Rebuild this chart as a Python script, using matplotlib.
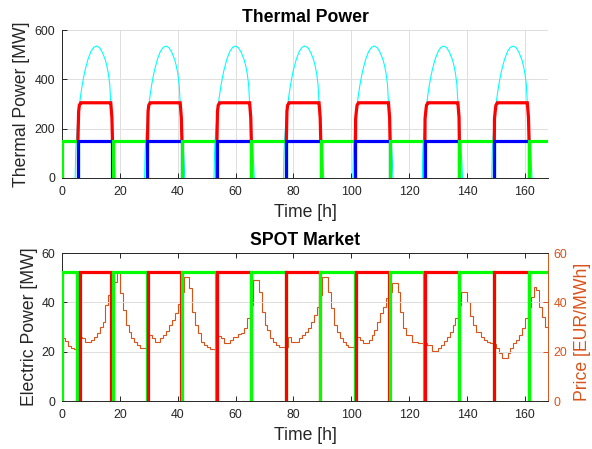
import numpy as np
import matplotlib
matplotlib.use("Agg")
import matplotlib.pyplot as plt

# ---------------------------------------------------------------- data
T_END = 168

# daily heat demand profile: hour of day -> MW
heat_hour = [4.55, 4.75, 5.0, 5.25, 5.5, 5.75, 6.0, 6.5, 7.0, 7.5, 8.0, 9.0,
             10.0, 11.0, 12.0, 13.0, 14.0, 15.0, 15.5, 16.0, 16.5, 16.85,
             17.25, 17.5, 17.75, 18.0, 18.2, 18.45]
heat_mw = [0, 110, 165, 205, 240, 270, 295, 340, 378, 410, 438, 482,
           513, 530, 535, 528, 508, 478, 455, 425, 380, 305,
           245, 205, 160, 110, 65, 0]
n_days = 7

# day unit (thermal) switching times [h]
day_on = [5.5, 29.55, 53.55, 77.55, 101.45, 125.45, 149.45]
day_off = [17.45, 41.45, 65.45, 89.45, 113.4, 137.35, 161.45]
# night unit (thermal) switching times [h]
night_off = [5.36, 29.3, 53.3, 77.3, 101.2, 125.2, 149.2]
night_on = [17.55, 41.5, 65.5, 89.5, 113.45, 137.4, 161.5]

unit_mw = 150        # thermal output of the base units
boiler_cap_mw = 305  # cap of the day unit total output

# electric output switching times [h]
el_day_on = [6.2, 29.65, 53.6, 77.55, 101.55, 125.5, 149.5]
el_day_off = [16.9, 41.3, 65.3, 89.2, 113.2, 137.2, 161.3]
el_night_off = [5.35, 29.4, 53.4, 77.3, 101.3, 125.3, 149.3]
el_night_on = [17.5, 41.45, 65.45, 89.35, 113.35, 137.35, 161.45]
el_mw = 52.5

# hourly SPOT price [EUR/MWh]
price = [
    # day 1
    25.6, 24.4, 22.4, 21.5, 21.0, 21.4, 25.8, 25.4, 23.8, 24.0, 24.8, 25.8,
    27.5, 29.8, 32.2, 38.9, 43.0, 47.5, 48.4, 52.4, 43.7, 36.9, 30.8, 28.1,
    # day 2
    25.4, 24.0, 22.7, 21.6, 21.6, 22.0, 26.8, 25.4, 24.0, 24.0, 25.4, 26.8,
    28.4, 30.8, 32.8, 35.5, 39.2, 44.3, 50.4, 50.4, 45.7, 36.2, 30.8, 27.4,
    # day 3
    24.0, 22.8, 21.8, 21.0, 21.0, 21.2, 26.3, 25.4, 23.7, 23.7, 24.7, 25.8,
    25.8, 27.0, 27.7, 29.7, 33.5, 38.9, 49.0, 49.0, 44.3, 36.2, 30.8, 28.8,
    # day 4
    25.4, 24.0, 22.7, 21.8, 21.8, 22.0, 26.1, 24.0, 24.0, 24.0, 25.4, 26.8,
    28.0, 29.5, 32.2, 35.0, 38.2, 43.0, 50.4, 50.4, 44.3, 37.6, 30.8, 28.1,
    # day 5
    25.4, 24.0, 22.7, 21.8, 21.8, 22.5, 26.1, 24.7, 23.4, 23.4, 24.7, 26.8,
    28.8, 32.2, 35.5, 38.0, 41.6, 44.0, 47.7, 47.7, 44.3, 36.2, 29.5, 26.8,
    # day 6
    26.8, 24.0, 24.0, 23.4, 23.4, 23.4, 22.7, 22.7, 20.3, 20.3, 21.5, 22.7,
    24.5, 25.8, 28.1, 30.8, 33.5, 38.9, 44.3, 44.3, 40.0, 34.5, 30.8, 28.1,
    # day 7
    28.1, 26.0, 24.7, 24.0, 23.4, 23.0, 21.4, 19.3, 17.6, 17.6, 19.3, 21.4,
    23.4, 24.7, 26.8, 29.5, 33.5, 38.0, 42.0, 46.3, 45.0, 38.2, 34.0, 30.0,
]

# ---------------------------------------------------------------- style
plt.rcParams["font.family"] = ["Liberation Sans", "DejaVu Sans"]
AX_COL = "#262626"
GRID_COL = "#dfdfdf"
PRICE_COL = "#D95319"
TICK_FS = 8.9
LABEL_FS = 12.7
LW_THICK = 2.3

fig = plt.figure(figsize=(5.92, 4.49), dpi=100)
W, H = 592.0, 449.0
ax1 = fig.add_axes([62 / W, 1 - 178 / H, 486 / W, 148 / H])
ax2 = fig.add_axes([62 / W, 1 - 401 / H, 486 / W, 148 / H])


def style_axes(ax):
    ax.set_xlim(0, T_END)
    ax.set_xticks(np.arange(0, 161, 20))
    ax.tick_params(direction="in", length=3.5, width=0.7, colors=AX_COL,
                   labelsize=TICK_FS, labelcolor=AX_COL)
    ax.tick_params(axis="x", pad=6)
    ax.tick_params(axis="y", pad=5)
    for s in ax.spines.values():
        s.set_color(AX_COL)
        s.set_linewidth(0.7)
    ax.set_xlabel("Time [h]", fontsize=LABEL_FS, color=AX_COL, labelpad=4)


# ---------------------------------------------------------------- thermal
style_axes(ax1)
ax1.set_ylim(0, 600)
ax1.set_yticks([0, 200, 400, 600])
ax1.spines["top"].set_visible(False)
ax1.spines["right"].set_visible(False)
ax1.grid(True, color=GRID_COL, linewidth=0.7)
ax1.set_axisbelow(True)

hh = np.asarray(heat_hour)
hv = np.asarray(heat_mw, dtype=float)
for d in range(n_days):
    ax1.plot(24 * d + hh, hv, color="cyan", lw=0.8, zorder=2)

# day unit total thermal output follows demand up to the cap
for on, off in zip(day_on, day_off):
    d = int(on // 24)
    tt = 24 * d + hh
    m = (tt > on) & (tt < off)
    rt = np.concatenate([[on], tt[m], [off]])
    rv = np.concatenate([[unit_mw], np.minimum(hv[m], boiler_cap_mw), [unit_mw]])
    ax1.plot(rt, rv, color="red", lw=LW_THICK, zorder=3, solid_joinstyle="miter")

# base units as on/off blocks, drawn in time order
segs = [(on, off, "blue") for on, off in zip(day_on, day_off)]
starts = [0.0] + night_on
ends = night_off + [T_END + 2]
segs += [(a, b, "#00ff00") for a, b in zip(starts, ends)]
segs.sort(key=lambda s: s[0])
for i, (a, b, c) in enumerate(segs):
    ax1.plot([a, a, b, b], [0, unit_mw, unit_mw, 0], color=c, lw=LW_THICK,
             zorder=4 + 0.01 * i, solid_joinstyle="miter", clip_on=True)

ax1.set_ylabel("Thermal Power [MW]", fontsize=LABEL_FS, color=AX_COL)
ax1.yaxis.set_label_coords(-0.066, 0.5)
ax1.set_title("Thermal Power", fontsize=LABEL_FS, fontweight="bold", pad=5.5)

# ---------------------------------------------------------------- market
axp = ax2.twinx()
style_axes(ax2)
ax2.set_ylim(0, 60)
ax2.set_yticks([0, 20, 40, 60])
ax2.tick_params(top=True, right=False)
ax2.spines["right"].set_visible(False)

# price axis sits behind the power axis
axp.set_zorder(ax2.get_zorder() - 1)
ax2.patch.set_visible(False)
axp.set_ylim(0, 60)
axp.set_yticks([0, 20, 40, 60])
axp.set_xlim(0, T_END)
axp.grid(True, color=GRID_COL, linewidth=0.7)
axp.xaxis.grid(True, color=GRID_COL, linewidth=0.7)
axp.tick_params(axis="y", direction="in", length=3.5, width=0.7,
                colors=PRICE_COL, labelsize=TICK_FS, pad=4)
for s in axp.spines.values():
    s.set_visible(False)
axp.spines["right"].set_visible(True)
axp.spines["right"].set_color(PRICE_COL)
axp.spines["right"].set_linewidth(0.7)
edges = np.arange(len(price) + 1)
axp.stairs(price, edges, color=PRICE_COL, lw=0.8, baseline=None)
axp.set_ylabel("Price [EUR/MWh]", fontsize=LABEL_FS, color=PRICE_COL,
               rotation=90)
axp.yaxis.set_label_coords(1.053, 0.47)

esegs = [(on, off, "red") for on, off in zip(el_day_on, el_day_off)]
estarts = [0.0] + el_night_on
eends = el_night_off + [T_END + 2]
esegs += [(a, b, "#00ff00") for a, b in zip(estarts, eends)]
esegs.sort(key=lambda s: s[0])
for i, (a, b, c) in enumerate(esegs):
    ax2.plot([a, a, b, b], [0, el_mw, el_mw, 0], color=c, lw=LW_THICK,
             zorder=4 + 0.01 * i, solid_joinstyle="miter")

ax2.set_ylabel("Electric Power [MW]", fontsize=LABEL_FS, color=AX_COL)
ax2.yaxis.set_label_coords(-0.049, 0.5)
ax2.set_title("SPOT Market", fontsize=LABEL_FS, fontweight="bold", pad=5.5)

fig.savefig("out.png", dpi=100)
